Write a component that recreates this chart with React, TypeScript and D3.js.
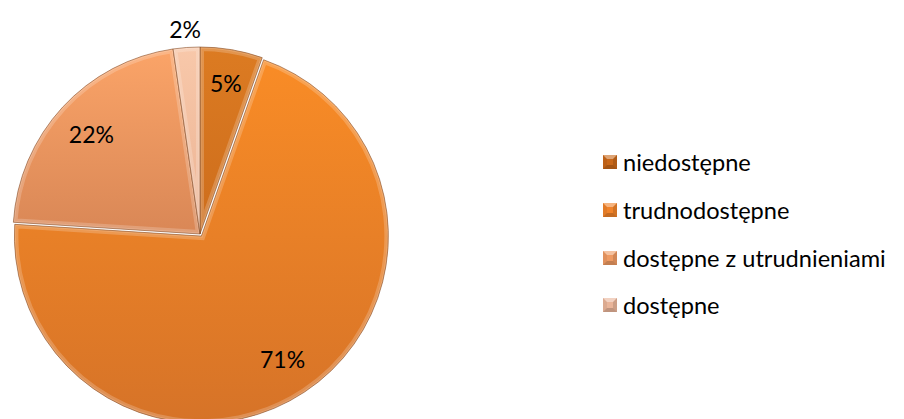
import React from "react";
import * as d3 from "d3";

const categories = ["niedostępne", "trudnodostępne", "dostępne z utrudnieniami", "dostępne"];
const values = [5.4, 70.6, 21.7, 2.3];
const labels = ["5%", "71%", "22%", "2%"];
const topColors = ["#DC7B22", "#F98C26", "#FBA468", "#F8C8AA"];
const bottomColors = ["#CD6D1C", "#D67328", "#D98756", "#EBB393"];
const baseColors = ["#C9681A", "#F0832A", "#EE9A62", "#E9B59A"];

const W = 904;
const H = 419;
const cx = 200;
const cy = 234;
const R = 187;

export default function App() {
  const pie = d3.pie<number>().sort(null).value((d) => d)(values);
  const arc = d3.arc<d3.PieArcDatum<number>>().innerRadius(0).outerRadius(R);
  const explode = [0, 2.5, 0, 0];
  const labelR = [0.82, 0.8, 0.79, 1.1];

  const legendX = 603;
  const legendY = [162, 210, 258, 305];

  return (
    <svg
      width={W}
      height={H}
      style={{ position: "absolute", left: 0, top: 0, background: "#fff" }}
      fontFamily="Lato, 'Open Sans', sans-serif"
    >
      <defs>
        {categories.map((c, i) => (
          <linearGradient key={c} id={`g${i}`} x1={0} y1={0} x2={0} y2={1}>
            <stop offset="0%" stopColor={topColors[i]} />
            <stop offset="100%" stopColor={bottomColors[i]} />
          </linearGradient>
        ))}
        {pie.map((p, i) => (
          <clipPath key={i} id={`c${i}`}>
            <path d={arc(p) || ""} />
          </clipPath>
        ))}
      </defs>
      <g transform={`translate(${cx},${cy})`}>
        {pie.map((p, i) => {
          const mid = (p.startAngle + p.endAngle) / 2;
          const dx = Math.sin(mid) * explode[i];
          const dy = -Math.cos(mid) * explode[i];
          const d = arc(p) || "";
          return (
            <g key={i} transform={`translate(${dx},${dy})`}>
              <path d={d} fill={`url(#g${i})`} />
              <path
                d={d}
                fill="none"
                stroke="#ffffff"
                strokeOpacity={0.2}
                strokeWidth={8}
                clipPath={`url(#c${i})`}
              />
              <path
                d={d}
                fill="none"
                stroke="#ffffff"
                strokeOpacity={0.15}
                strokeWidth={3}
                clipPath={`url(#c${i})`}
              />
              <path d={d} fill="none" stroke="#7a4018" strokeOpacity={0.6} strokeWidth={0.9} />
            </g>
          );
        })}
        {pie.map((p, i) => {
          const mid = (p.startAngle + p.endAngle) / 2;
          const r = R * labelR[i];
          return (
            <text
              key={i}
              x={Math.sin(mid) * r}
              y={-Math.cos(mid) * r}
              textAnchor="middle"
              dominantBaseline="central"
              fontSize={23}
              fill="#000"
            >
              {labels[i]}
            </text>
          );
        })}
      </g>
      {categories.map((c, i) => {
        const s = 14;
        const x = legendX;
        const y = legendY[i] - s / 2;
        const m = 4;
        return (
          <g key={c}>
            <rect x={x} y={y} width={s} height={s} fill={baseColors[i]} />
            <polygon
              points={`${x},${y} ${x + s},${y} ${x + s - m},${y + m} ${x + m},${y + m}`}
              fill="#ffffff"
              fillOpacity={0.4}
            />
            <polygon
              points={`${x},${y + s} ${x + s},${y + s} ${x + s - m},${y + s - m} ${x + m},${y + s - m}`}
              fill="#000"
              fillOpacity={0.18}
            />
            <polygon
              points={`${x},${y} ${x + m},${y + m} ${x + m},${y + s - m} ${x},${y + s}`}
              fill="#000"
              fillOpacity={0.06}
            />
            <polygon
              points={`${x + s},${y} ${x + s - m},${y + m} ${x + s - m},${y + s - m} ${x + s},${y + s}`}
              fill="#000"
              fillOpacity={0.12}
            />
            <text
              x={x + s + 6}
              y={legendY[i]}
              dominantBaseline="central"
              fontSize={23.6}
              fill="#000"
            >
              {c}
            </text>
          </g>
        );
      })}
    </svg>
  );
}
